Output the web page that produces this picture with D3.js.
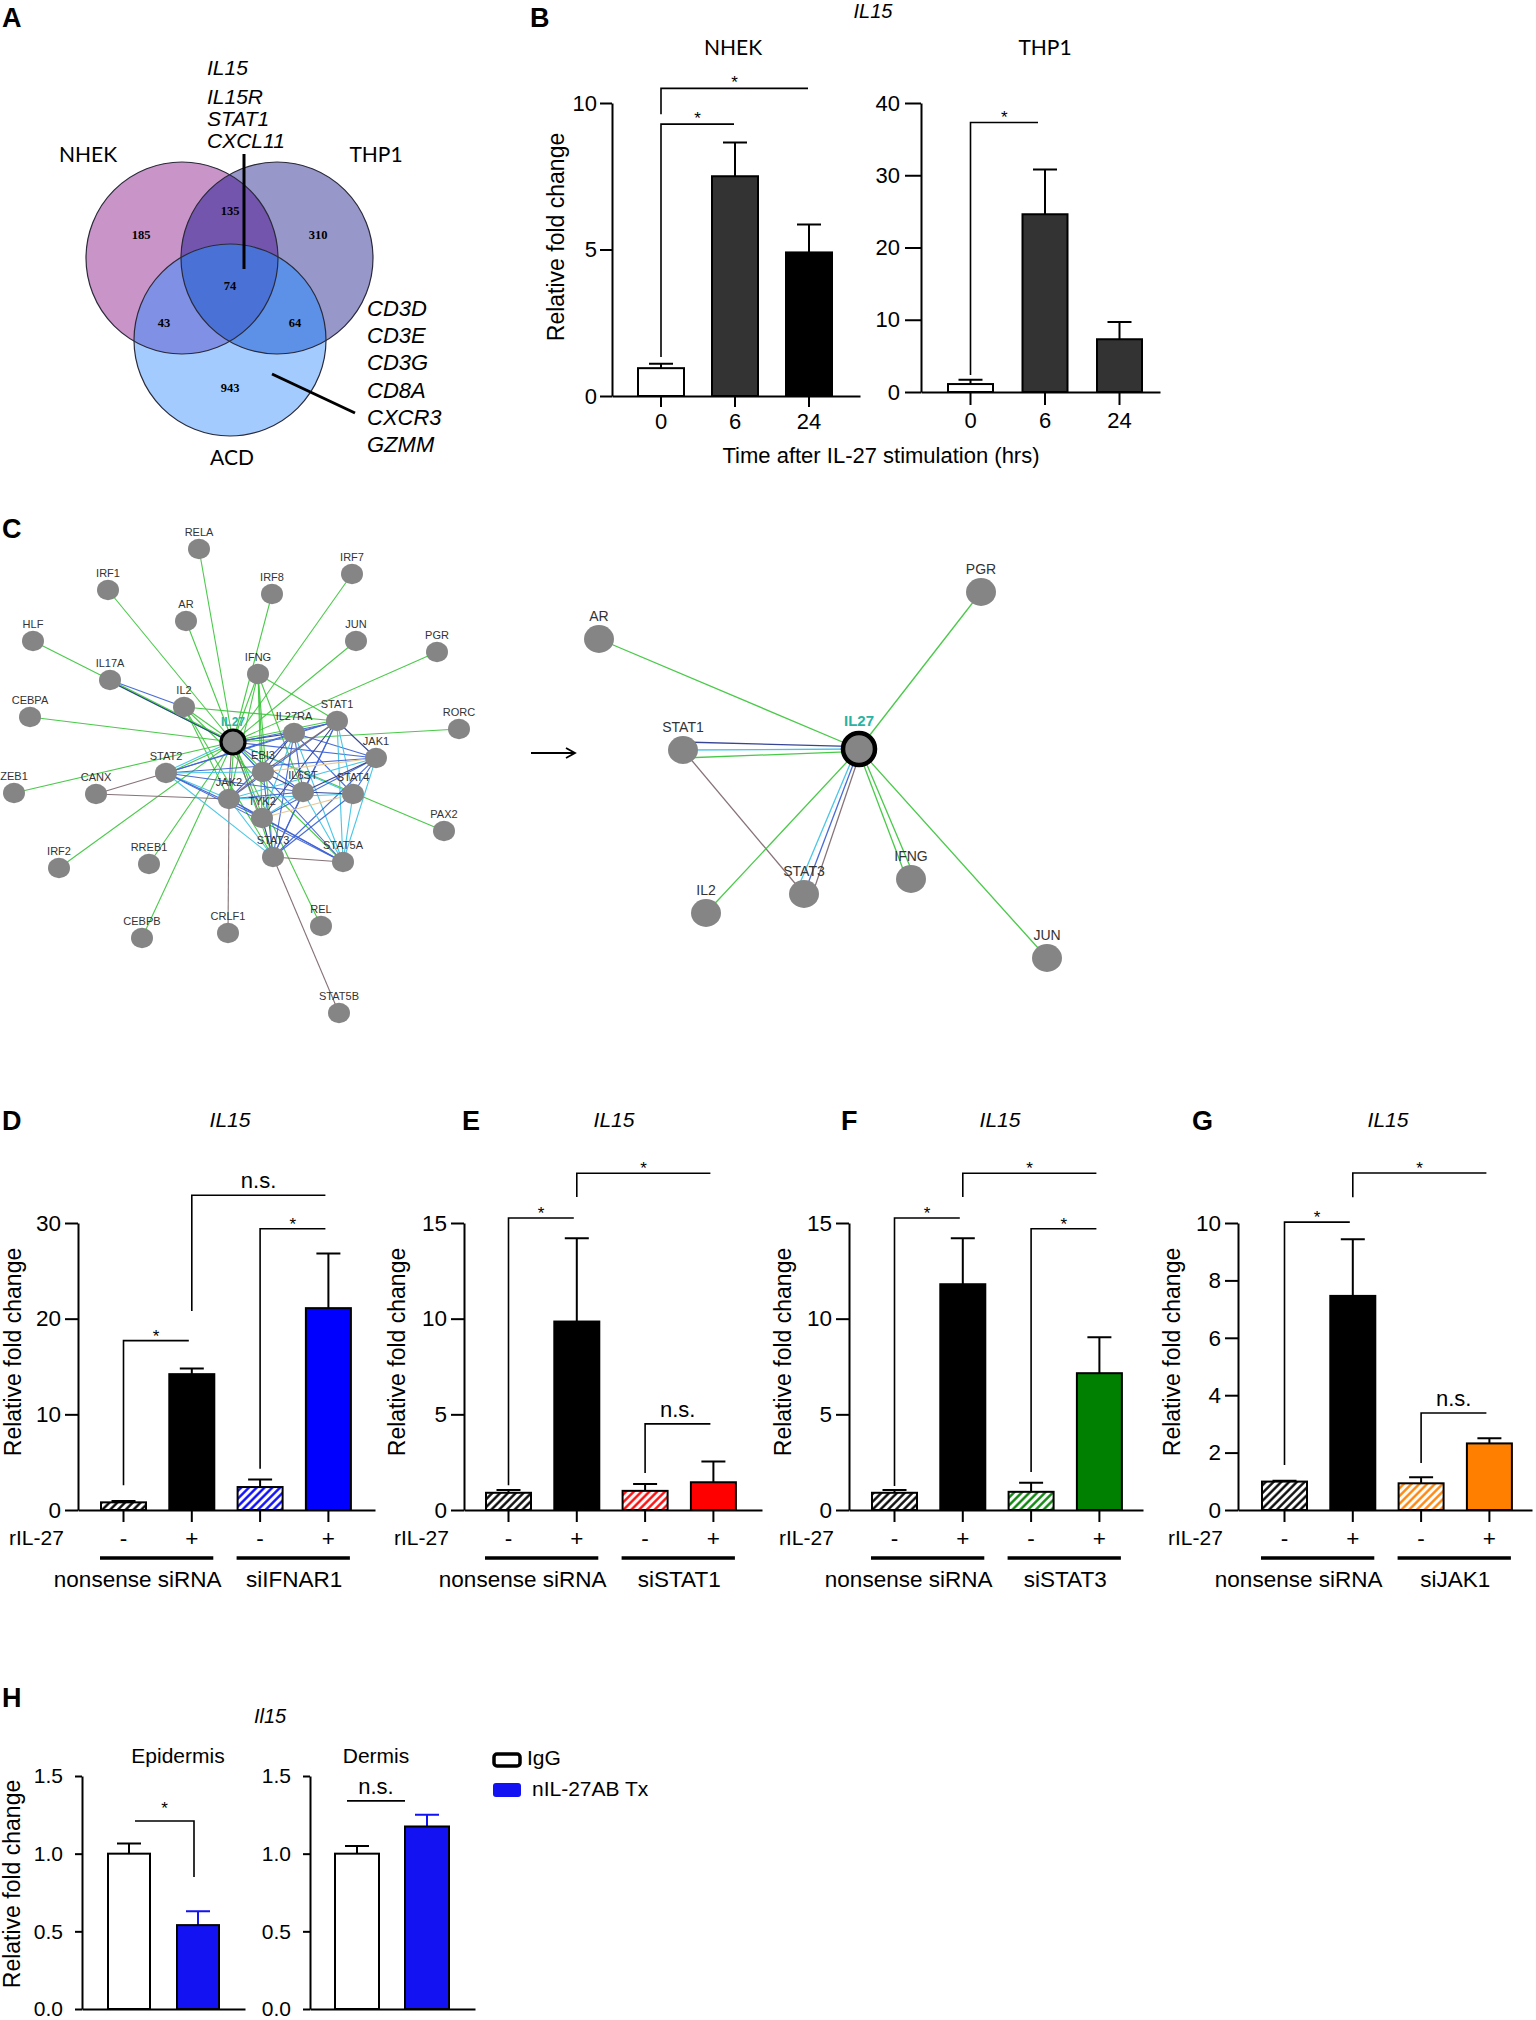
<!DOCTYPE html>
<html>
<head>
<meta charset="utf-8">
<script src="https://cdn.jsdelivr.net/npm/d3@7"></script>
<style>
  body { margin: 0; background: #fff; }
</style>
</head>
<body>
<svg id="fig" width="1536" height="2020"></svg>
<script>
"use strict";

// ---------- data ----------
// A: Venn
const vennSets = ["NHEK", "THP1", "ACD"];
const vennRegions = ["NHEK", "NHEK&THP1", "THP1", "NHEK&THP1&ACD", "NHEK&ACD", "THP1&ACD", "ACD"];
const vennCounts = [185, 135, 310, 74, 43, 64, 943];
const sharedGenes = ["IL15", "IL15R", "STAT1", "CXCL11"];
const acdGenes = ["CD3D", "CD3E", "CD3G", "CD8A", "CXCR3", "GZMM"];

// B: IL15 after IL-27 stimulation
const bTimes = ["0", "6", "24"];
const bNhekMean = [0.95, 7.5, 4.9];
const bNhekSem = [0.15, 1.15, 0.95];
const bThp1Mean = [1.1, 24.6, 7.3];
const bThp1Sem = [0.6, 6.2, 2.4];
const bNhekSig = [[0, 1, 1.33, 9.28, "*"], [0, 2, 9.62, 10.5, "*"]];
const bThp1Sig = [[0, 1, 2.35, 37.3, "*"]];

// C: networks
const netNodes = ["RELA", "IRF1", "IRF8", "IRF7", "AR", "HLF", "JUN", "PGR", "IFNG", "IL17A", "IL2", "CEBPA",
  "STAT1", "RORC", "IL27RA", "IL27", "JAK1", "STAT2", "EBI3", "IL6ST", "STAT4", "JAK2", "TYK2", "STAT3",
  "STAT5A", "ZEB1", "CANX", "PAX2", "IRF2", "RREB1", "CEBPB", "CRLF1", "REL", "STAT5B"];
const netEdges = [
  "IL27 RELA g", "IL27 IRF1 g", "IL27 IRF8 g", "IL27 IRF7 g", "IL27 AR g", "IL27 HLF g", "IL27 JUN g",
  "IL27 PGR g", "IL27 IFNG g", "IL27 IL17A g", "IL27 IL2 g", "IL27 CEBPA g", "IL27 RORC g", "IL27 ZEB1 g",
  "IL27 IRF2 g", "IL27 RREB1 g", "IL27 CEBPB g", "IL27 REL g", "IL27 PAX2 g", "IL27 STAT1 g", "IL27 STAT3 g",
  "IL27 STAT2 g", "IL27 JAK2 g", "IL27 TYK2 g", "IL27 EBI3 g",
  "IFNG JAK2 g", "IFNG TYK2 g", "IFNG STAT3 g", "IFNG EBI3 g", "IFNG STAT1 g", "IFNG IL6ST g",
  "IL2 STAT3 g", "IL2 JAK2 g", "IL2 STAT5A g", "IL2 STAT1 g", "IL17A IL2 b", "IL17A IL27 n",
  "CANX STAT2 r", "CANX JAK2 r", "CRLF1 JAK2 r", "STAT5B STAT3 r", "STAT3 STAT5A r", "STAT1 JAK1 n",
  "IL27 JAK2 r", "IL27 TYK2 r",
  "IL27 IL27RA n", "IL27 STAT1 b", "IL27 JAK1 b", "IL27 EBI3 c", "IL27 IL6ST b", "IL27 STAT4 c",
  "IL27 STAT5A b", "IL27 STAT2 c",
  "IL27RA STAT1 b", "IL27RA JAK1 b", "IL27RA JAK2 b", "IL27RA TYK2 c", "IL27RA STAT3 b", "IL27RA STAT5A c",
  "IL27RA EBI3 n", "IL27RA IL6ST b", "IL27RA STAT2 b", "IL27RA STAT4 b",
  "STAT1 JAK2 b", "STAT1 TYK2 n", "STAT1 STAT3 b", "STAT1 STAT5A c", "STAT1 STAT2 b", "STAT1 IL6ST b",
  "STAT1 STAT4 c", "STAT1 EBI3 r",
  "JAK1 STAT2 b", "JAK1 JAK2 c", "JAK1 TYK2 b", "JAK1 STAT3 b", "JAK1 STAT5A c", "JAK1 IL6ST n",
  "JAK1 STAT4 b", "JAK1 EBI3 t",
  "STAT2 JAK2 c", "STAT2 TYK2 b", "STAT2 STAT3 c", "STAT2 IL6ST b", "STAT2 STAT5A b", "STAT2 EBI3 c",
  "EBI3 IL6ST n", "EBI3 JAK2 r", "EBI3 STAT3 b",
  "IL6ST JAK2 b", "IL6ST TYK2 c", "IL6ST STAT3 b", "IL6ST STAT4 n", "IL6ST STAT5A c",
  "JAK2 TYK2 b", "JAK2 STAT3 c", "JAK2 STAT5A b", "JAK2 STAT4 c",
  "TYK2 STAT3 n", "TYK2 STAT4 t", "TYK2 STAT5A b", "STAT3 STAT4 b", "STAT4 STAT5A c"
];
const subNodes = ["AR", "PGR", "STAT1", "IL27", "IL2", "STAT3", "IFNG", "JUN"];
const subEdges = [
  "AR IL27 g", "PGR IL27 g", "STAT1 IL27 n", "STAT1 IL27 c", "STAT1 IL27 g", "STAT1 STAT3 r",
  "IL2 IL27 g", "STAT3 IL27 c", "STAT3 IL27 b", "STAT3 IL27 r", "IFNG IL27 g", "IFNG IL27 g", "JUN IL27 g"
];

// D-G: IL15 with siRNA knock-down
const rIL27 = ["-", "+", "-", "+"];
const dGroups = ["nonsense siRNA", "siIFNAR1"];
const dMean = [0.8, 14.2, 2.4, 21.1];
const dSem = [0.15, 0.6, 0.8, 5.7];
const dSig = [[0, 1, 2.6, 17.7, "*"], [1, 3, 20.8, 32.9, "n.s."], [2, 3, 4.3, 29.4, "*"]];
const eGroups = ["nonsense siRNA", "siSTAT1"];
const eMean = [0.9, 9.85, 1.0, 1.45];
const eSem = [0.15, 4.35, 0.36, 1.08];
const eSig = [[0, 1, 1.3, 15.26, "*"], [1, 3, 16.36, 17.6, "*"], [2, 3, 1.93, 4.5, "n.s."]];
const fGroups = ["nonsense siRNA", "siSTAT3"];
const fMean = [0.9, 11.8, 0.95, 7.15];
const fSem = [0.15, 2.4, 0.48, 1.88];
const fSig = [[0, 1, 1.25, 15.26, "*"], [1, 3, 16.36, 17.6, "*"], [2, 3, 1.99, 14.7, "*"]];
const gGroups = ["nonsense siRNA", "siJAK1"];
const gMean = [0.99, 7.46, 0.93, 2.32];
const gSem = [0.03, 1.97, 0.21, 0.18];
const gSig = [[0, 1, 1.57, 10.03, "*"], [1, 3, 10.9, 11.74, "*"], [2, 3, 1.64, 3.38, "n.s."]];

// H: Il15 in mouse skin
const hGroups = ["IgG", "nIL-27AB Tx"];
const hEpiMean = [1.0, 0.54];
const hEpiSem = [0.065, 0.09];
const hDerMean = [1.0, 1.175];
const hDerSem = [0.05, 0.075];

// ---------- drawing ----------
const SANS = '"Liberation Sans", Arial, Helvetica, sans-serif';
const CALI = 'Lato, "Open Sans", sans-serif';
const svg = d3.select("#fig");
const defs = svg.append("defs");

function txt(g, s, x, y, o = {}) {
  return g.append("text").attr("x", x).attr("y", y).text(s)
    .attr("font-family", o.family || SANS)
    .attr("font-size", o.size || 21)
    .attr("font-style", o.italic ? "italic" : null)
    .attr("font-weight", o.bold ? "bold" : null)
    .attr("text-anchor", o.anchor || "middle")
    .attr("fill", o.fill || "#000");
}

function vtitle(g, s, cx, cy, size) {
  g.append("text").attr("transform", "translate(" + cx + "," + cy + ") rotate(-90)")
    .attr("dy", "0.35em").attr("text-anchor", "middle")
    .attr("font-family", SANS).attr("font-size", size || 23).text(s);
}

// panel letters
const letterPos = {A: [2, 27], B: [530, 27], C: [2, 538], D: [2, 1130], E: [462, 1130], F: [841, 1130], G: [1192, 1130], H: [2, 1707]};
Object.keys(letterPos).forEach(k => txt(svg, k, letterPos[k][0], letterPos[k][1], {size: 27, bold: true, anchor: "start"}));

// ---------- A: Venn ----------
const vennLayout = {NHEK: [182, 258], THP1: [277, 258], ACD: [230, 340]};
const R = 96;
const vennFill = {
  "NHEK": "#c994c8", "THP1": "#9797c9", "ACD": "#a3cbfd",
  "NHEK&THP1": "#7355ae", "NHEK&ACD": "#8090e4", "THP1&ACD": "#5c91e7", "NHEK&THP1&ACD": "#4a72d6"
};
const regionPos = {
  "NHEK": [141, 235], "NHEK&THP1": [230, 211], "THP1": [318, 235], "NHEK&THP1&ACD": [230, 286],
  "NHEK&ACD": [164, 323], "THP1&ACD": [295, 323], "ACD": [230, 388]
};
vennSets.forEach(s => defs.append("clipPath").attr("id", "clip-" + s).append("circle")
  .attr("cx", vennLayout[s][0]).attr("cy", vennLayout[s][1]).attr("r", R));
const va = svg.append("g");
function vcircle(g, s) {
  return g.append("circle").attr("cx", vennLayout[s][0]).attr("cy", vennLayout[s][1]).attr("r", R);
}
vennSets.forEach(s => vcircle(va, s).attr("fill", vennFill[s]));
vcircle(va.append("g").attr("clip-path", "url(#clip-NHEK)"), "THP1").attr("fill", vennFill["NHEK&THP1"]);
vcircle(va.append("g").attr("clip-path", "url(#clip-NHEK)"), "ACD").attr("fill", vennFill["NHEK&ACD"]);
vcircle(va.append("g").attr("clip-path", "url(#clip-THP1)"), "ACD").attr("fill", vennFill["THP1&ACD"]);
vcircle(va.append("g").attr("clip-path", "url(#clip-THP1)").append("g").attr("clip-path", "url(#clip-NHEK)"), "ACD")
  .attr("fill", vennFill["NHEK&THP1&ACD"]);
vennSets.forEach(s => vcircle(va, s).attr("fill", "none").attr("stroke", "#2a2a3a").attr("stroke-width", 1.2));
vennRegions.forEach((r, i) => txt(va, vennCounts[i], regionPos[r][0], regionPos[r][1],
  {family: '"Liberation Serif", "DejaVu Serif", serif', size: 12.5, bold: true}).attr("dy", "0.35em"));
txt(va, "NHEK", 88, 162, {family: CALI, size: 21});
txt(va, "THP1", 376, 162, {family: CALI, size: 21});
txt(va, "ACD", 232, 465, {family: CALI, size: 21});
const sharedY = [75, 104, 126, 148];
sharedGenes.forEach((s, i) => txt(va, s, 207, sharedY[i], {italic: true, anchor: "start", size: 21}));
va.append("line").attr("x1", 244).attr("y1", 154).attr("x2", 244).attr("y2", 269).attr("stroke", "#000").attr("stroke-width", 3);
acdGenes.forEach((s, i) => txt(va, s, 367, 316 + i * 27.2, {italic: true, anchor: "start", size: 22}));
va.append("line").attr("x1", 272).attr("y1", 374).attr("x2", 355).attr("y2", 413).attr("stroke", "#000").attr("stroke-width", 3);

// ---------- bar chart helper ----------
function barChart(p) {
  const g = svg.append("g");
  const n = p.mean.length;
  const pi = 1 - p.bw / p.step;
  const po = ((p.x1 - p.x0) / p.step - n + pi) / 2;
  const align = (p.first - p.x0) / ((p.x1 - p.x0) - p.step * (n - pi));
  const x = d3.scaleBand().domain(d3.range(n)).range([p.x0, p.x1])
    .paddingInner(pi).paddingOuter(po).align(align);
  const y = d3.scaleLinear().domain([0, p.max]).range([p.y0, p.yTop]);
  const cx = i => x(i) + x.bandwidth() / 2;

  const cap = p.cap || 24;
  g.selectAll("path.err").data(p.mean).join("path")
    .attr("d", (d, i) => {
      const t = y(d + p.sem[i]);
      return "M" + cx(i) + "," + y(d) + "V" + t + "M" + (cx(i) - cap / 2) + "," + t + "H" + (cx(i) + cap / 2);
    })
    .attr("stroke", (d, i) => p.errColors ? p.errColors[i] : "#000").attr("stroke-width", 2).attr("fill", "none");
  g.selectAll("rect.bar").data(p.mean).join("rect")
    .attr("x", (d, i) => x(i)).attr("y", d => y(d))
    .attr("width", x.bandwidth()).attr("height", d => p.y0 - y(d))
    .attr("fill", (d, i) => p.fills[i]).attr("stroke", "#000").attr("stroke-width", 2);

  const ya = g.append("g").attr("transform", "translate(" + p.x0 + ",0)")
    .call(d3.axisLeft(y).tickValues(p.ticks).tickSize(p.tickY).tickSizeOuter(0)
      .tickPadding(p.padY).tickFormat(p.fmt || d3.format("d")));
  const xa = g.append("g").attr("transform", "translate(0," + p.y0 + ")")
    .call(d3.axisBottom(x).tickSize(p.tickX).tickSizeOuter(0).tickPadding(p.padX)
      .tickFormat(i => p.cats ? p.cats[i] : ""));
  [ya, xa].forEach(a => {
    a.select(".domain").attr("stroke", "#000").attr("stroke-width", 2);
    a.selectAll(".tick line").attr("stroke", "#000").attr("stroke-width", 2);
    a.selectAll("text").attr("font-size", p.fs || 22).attr("fill", "#000").attr("font-family", SANS);
  });

  (p.sig || []).forEach(s => {
    const [a, b, foot, top, lab] = s;
    const xa0 = cx(a) + (p.dxa || 0), xb0 = cx(b) + (p.dxb == null ? -3 : p.dxb);
    const yt = y(top);
    let d;
    if (foot == null) d = "M" + xa0 + "," + yt + "H" + xb0;
    else if (p.footRight) d = "M" + xa0 + "," + yt + "H" + xb0 + "V" + y(foot);
    else d = "M" + xa0 + "," + y(foot) + "V" + yt + "H" + xb0;
    g.append("path").attr("d", d).attr("fill", "none").attr("stroke", "#000").attr("stroke-width", 1.6);
    const star = lab === "*";
    txt(g, lab, (xa0 + xb0) / 2, yt + (star ? (p.starDy == null ? 1 : p.starDy) : -7), {size: star ? 17 : 22});
  });
  return {g, x, y, cx};
}

function hatch(id, color) {
  const pt = defs.append("pattern").attr("id", id).attr("patternUnits", "userSpaceOnUse")
    .attr("width", 5.5).attr("height", 5.5).attr("patternTransform", "rotate(45)");
  pt.append("rect").attr("width", 5.5).attr("height", 5.5).attr("fill", "#fff");
  pt.append("line").attr("x1", 1.4).attr("y1", 0).attr("x2", 1.4).attr("y2", 5.5)
    .attr("stroke", color).attr("stroke-width", 2.3);
  return "url(#" + id + ")";
}

// ---------- B ----------
const bg = svg.append("g");
txt(bg, "IL15", 873, 18, {italic: true, size: 20});
txt(bg, "NHEK", 733, 55, {family: CALI, size: 21});
txt(bg, "THP1", 1045, 55, {family: CALI, size: 21});
barChart({x0: 612, x1: 860, first: 638, step: 74, bw: 46, y0: 396, yTop: 103, max: 10, ticks: [0, 5, 10],
  mean: bNhekMean, sem: bNhekSem, fills: ["#fff", "#333", "#000"], cats: bTimes,
  tickY: 12, padY: 3, tickX: 11, padX: 6, sig: bNhekSig, dxb: -1, starDy: 0});
barChart({x0: 921, x1: 1160, first: 948, step: 74.5, bw: 45, y0: 392, yTop: 103, max: 40, ticks: [0, 10, 20, 30, 40],
  mean: bThp1Mean, sem: bThp1Sem, fills: ["#fff", "#333", "#333"], cats: bTimes,
  tickY: 16, padY: 5, tickX: 13, padX: 7, sig: bThp1Sig, dxb: -7, starDy: 0});
vtitle(bg, "Relative fold change", 556, 237);
txt(bg, "Time after IL-27 stimulation (hrs)", 881, 463, {size: 22});

// ---------- C: networks ----------
const edgeColor = {g: "#3fc63f", b: "#3f63d4", c: "#3fc3e4", n: "#2b3b8e", r: "#7e6a70", t: "#e6c48a"};
const netLayout = {
  RELA: [199, 549], IRF1: [108, 590], IRF8: [272, 594], IRF7: [352, 574], AR: [186, 621], HLF: [33, 641],
  JUN: [356, 641], PGR: [437, 652], IFNG: [258, 674], IL17A: [110, 680], IL2: [184, 707], CEBPA: [30, 717],
  STAT1: [337, 721], RORC: [459, 729], IL27RA: [294, 733], IL27: [233, 742], JAK1: [376, 758],
  STAT2: [166, 773], EBI3: [263, 772], IL6ST: [303, 792], STAT4: [353, 794], JAK2: [229, 799],
  TYK2: [262, 818], STAT3: [273, 857], STAT5A: [343, 862], ZEB1: [14, 793], CANX: [96, 794],
  PAX2: [444, 831], IRF2: [59, 868], RREB1: [149, 864], CEBPB: [142, 938], CRLF1: [228, 933],
  REL: [321, 926], STAT5B: [339, 1013]
};
const subLayout = {
  AR: [599, 639], PGR: [981, 592], STAT1: [683, 750], IL27: [859, 749], IL2: [706, 913],
  STAT3: [804, 894], IFNG: [911, 879], JUN: [1047, 958]
};

function network(nodes, edges, layout, o) {
  const g = svg.append("g");
  const sx = d3.scaleIdentity(), sy = d3.scaleIdentity();
  const parsed = edges.map(e => e.split(" "));
  const count = {}, seen = {};
  parsed.forEach(e => { const k = [e[0], e[1]].sort().join("|"); count[k] = (count[k] || 0) + 1; });
  g.selectAll("line").data(parsed).join("line")
    .each(function (e) {
      const k = [e[0], e[1]].sort().join("|");
      const idx = seen[k] = (seen[k] == null ? 0 : seen[k] + 1);
      const off = (idx - (count[k] - 1) / 2) * o.spread;
      const a = layout[e[0]], b = layout[e[1]];
      const dx = b[0] - a[0], dy = b[1] - a[1], len = Math.hypot(dx, dy);
      const ox = -dy / len * off, oy = dx / len * off;
      d3.select(this).attr("x1", sx(a[0] + ox)).attr("y1", sy(a[1] + oy))
        .attr("x2", sx(b[0] + ox * o.hubFactor)).attr("y2", sy(b[1] + oy * o.hubFactor));
    })
    .attr("stroke", e => edgeColor[e[2]]).attr("stroke-width", o.lw).attr("stroke-opacity", 0.95);
  nodes.forEach(nm => {
    const p = layout[nm];
    const hub = nm === "IL27";
    g.append("ellipse").attr("cx", sx(p[0])).attr("cy", sy(p[1]))
      .attr("rx", hub ? o.r + 1 : o.r).attr("ry", hub ? o.r + 1 : o.r * 0.93)
      .attr("fill", "#858585")
      .attr("stroke", hub ? "#000" : "none").attr("stroke-width", hub ? o.hubStroke : 0);
  });
  nodes.forEach(nm => {
    const p = layout[nm];
    const hub = nm === "IL27";
    txt(g, nm, sx(p[0]), sy(p[1]) - (hub ? o.hubDy : o.labDy),
      {size: hub ? o.fs + 1 : o.fs, fill: hub ? "#2ab3a3" : "#333", bold: hub});
  });
  return g;
}
network(netNodes, netEdges, netLayout, {r: 11, lw: 1.1, spread: 2, hubFactor: 1, hubStroke: 3.2, fs: 11, labDy: 13, hubDy: 16});
network(subNodes, subEdges, subLayout, {r: 15, lw: 1.3, spread: 8, hubFactor: 0.3, hubStroke: 4.5, fs: 14, labDy: 18, hubDy: 23});
// arrow between the two networks
svg.append("path").attr("d", "M531,753H574M566,748L575,753L566,758")
  .attr("fill", "none").attr("stroke", "#000").attr("stroke-width", 1.8);

// ---------- D-G ----------
function knockPanel(pp) {
  const ch = barChart({x0: pp.x0, x1: pp.x1, first: pp.first, step: 68.3, bw: 45, y0: 1510, yTop: 1223,
    max: pp.max, ticks: pp.ticks, mean: pp.mean, sem: pp.sem, fills: pp.fills, cats: rIL27,
    tickY: 13, padY: 4, tickX: 12, padX: 8, sig: pp.sig, fs: 22.5});
  txt(ch.g, "IL15", pp.titleX, 1127, {italic: true, size: 21});
  txt(ch.g, "rIL-27", pp.rilX, 1545, {anchor: "start"});
  pp.groups.forEach((gname, k) => {
    const a = 2 * k, b = 2 * k + 1;
    const xa = ch.x(a) - 1, xb = ch.x(b) + ch.x.bandwidth() - 1;
    ch.g.append("line").attr("x1", xa).attr("x2", xb).attr("y1", 1558).attr("y2", 1558)
      .attr("stroke", "#000").attr("stroke-width", 3.5);
    // the first group label sits a little left of its line in the original
    txt(ch.g, gname, (xa + xb) / 2 + (k === 0 ? -19 : 1), 1587, {size: 22.5});
  });
  vtitle(ch.g, "Relative fold change", pp.yTitleX, 1352);
}
knockPanel({x0: 78, x1: 375, first: 101, max: 30, ticks: [0, 10, 20, 30], mean: dMean, sem: dSem,
  fills: [hatch("hk1", "#000"), "#000", hatch("hb", "#0000ff"), "#0000ff"], sig: dSig, groups: dGroups,
  titleX: 230, rilX: 9, yTitleX: 13});
knockPanel({x0: 464, x1: 762, first: 486, max: 15, ticks: [0, 5, 10, 15], mean: eMean, sem: eSem,
  fills: [hatch("hk2", "#000"), "#000", hatch("hr", "#ff0000"), "#ff0000"], sig: eSig, groups: eGroups,
  titleX: 614, rilX: 394, yTitleX: 397});
knockPanel({x0: 849, x1: 1143, first: 872, max: 15, ticks: [0, 5, 10, 15], mean: fMean, sem: fSem,
  fills: [hatch("hk3", "#000"), "#000", hatch("hg", "#008000"), "#008000"], sig: fSig, groups: fGroups,
  titleX: 1000, rilX: 779, yTitleX: 783});
knockPanel({x0: 1238, x1: 1532, first: 1262, max: 10, ticks: [0, 2, 4, 6, 8, 10], mean: gMean, sem: gSem,
  fills: [hatch("hk4", "#000"), "#000", hatch("ho", "#ff8000"), "#ff8000"], sig: gSig, groups: gGroups,
  titleX: 1388, rilX: 1168, yTitleX: 1172});

// ---------- H ----------
const hg = svg.append("g");
const hBlue = "#1212f2";
txt(hg, "Il15", 270, 1723, {italic: true, size: 20});
txt(hg, "Epidermis", 178, 1763);
txt(hg, "Dermis", 376, 1763);
barChart({x0: 82, x1: 245, first: 108, step: 69, bw: 42, y0: 2009, yTop: 1776, max: 1.5, ticks: [0, 0.5, 1, 1.5],
  fmt: d3.format(".1f"), mean: hEpiMean, sem: hEpiSem, fills: ["#fff", hBlue], errColors: ["#000", hBlue],
  tickY: 7, padY: 12, tickX: 0, padX: 0, cap: 24, sig: [[0, 1, 0.85, 1.21, "*"]], footRight: true,
  dxa: 6, dxb: -4, starDy: -7, fs: 21});
barChart({x0: 310, x1: 475, first: 335, step: 70, bw: 44, y0: 2009, yTop: 1776, max: 1.5, ticks: [0, 0.5, 1, 1.5],
  fmt: d3.format(".1f"), mean: hDerMean, sem: hDerSem, fills: ["#fff", hBlue], errColors: ["#000", hBlue],
  tickY: 7, padY: 12, tickX: 0, padX: 0, cap: 24, sig: [[0, 1, null, 1.34, "n.s."]], dxa: -10, dxb: -22, fs: 21});
vtitle(hg, "Relative fold change", 12, 1884);
// legend
hg.append("rect").attr("x", 494).attr("y", 1754).attr("width", 26).attr("height", 12).attr("rx", 3)
  .attr("fill", "#fff").attr("stroke", "#000").attr("stroke-width", 3.5);
hg.append("rect").attr("x", 493).attr("y", 1783).attr("width", 28).attr("height", 14).attr("rx", 3)
  .attr("fill", hBlue);
txt(hg, hGroups[0], 527, 1765, {anchor: "start"});
txt(hg, hGroups[1], 532, 1796, {anchor: "start"});
</script>
</body>
</html>
